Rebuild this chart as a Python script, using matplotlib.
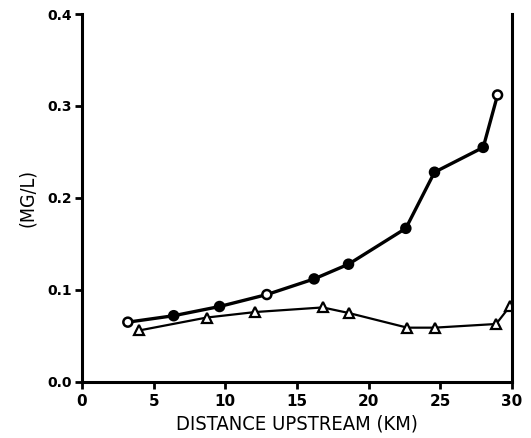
import numpy as np
import matplotlib.pyplot as plt

# ---------------------------------
# Data
# ---------------------------------
dist_circle = [3.2, 6.4, 9.6, 12.9, 16.2, 18.6, 22.6, 24.6, 28.0, 29.0]
conc_circle = [0.065, 0.072, 0.082, 0.095, 0.112, 0.128, 0.167, 0.228, 0.255, 0.312]
circle_filled = [False, True, True, False, True, True, True, True, True, False]

dist_tri = [4.0, 8.7, 12.1, 16.8, 18.6, 22.7, 24.6, 28.9, 29.9]
conc_tri = [0.056, 0.070, 0.076, 0.081, 0.075, 0.059, 0.059, 0.063, 0.083]

x_ticks = [0, 5, 10, 15, 20, 25, 30]
y_ticks = [0.0, 0.1, 0.2, 0.3, 0.4]

# ---------------------------------
# Plot
# ---------------------------------
plt.rcParams['font.family'] = ['DejaVu Sans']

fig = plt.figure(figsize=(5.31, 4.38), dpi=100)
ax = fig.add_axes([0.1544, 0.128, 0.8096, 0.84])

ax.plot(dist_circle, conc_circle, color='black', lw=2.4, zorder=2)
faces = ['black' if f else 'white' for f in circle_filled]
ax.scatter(dist_circle, conc_circle, s=42, facecolors=faces,
           edgecolors='black', linewidths=1.8, zorder=3)

ax.plot(dist_tri, conc_tri, color='black', lw=1.6, marker='^', ms=7,
        mfc='white', mec='black', mew=1.6, zorder=2)

ax.set_xlim(0, 30)
ax.set_ylim(0, 0.4)
ax.set_xticks(x_ticks)
ax.set_yticks(y_ticks)
ax.set_xticklabels([str(t) for t in x_ticks], fontsize=11, fontweight='bold')
ax.set_yticklabels(["%.1f" % t for t in y_ticks], fontsize=10, fontweight='bold')

ax.spines['top'].set_visible(False)
for s in ['left', 'bottom', 'right']:
    ax.spines[s].set_linewidth(2.2)
ax.tick_params(direction='out', length=5, width=2)
ax.tick_params(axis='y', pad=2)

ax.set_xlabel("DISTANCE UPSTREAM (KM)", fontsize=14.5, fontstretch='condensed',
              labelpad=4)
ax.set_ylabel("(MG/L)", fontsize=14, fontstretch='condensed', labelpad=8)

fig.savefig("out.png", dpi=100)
